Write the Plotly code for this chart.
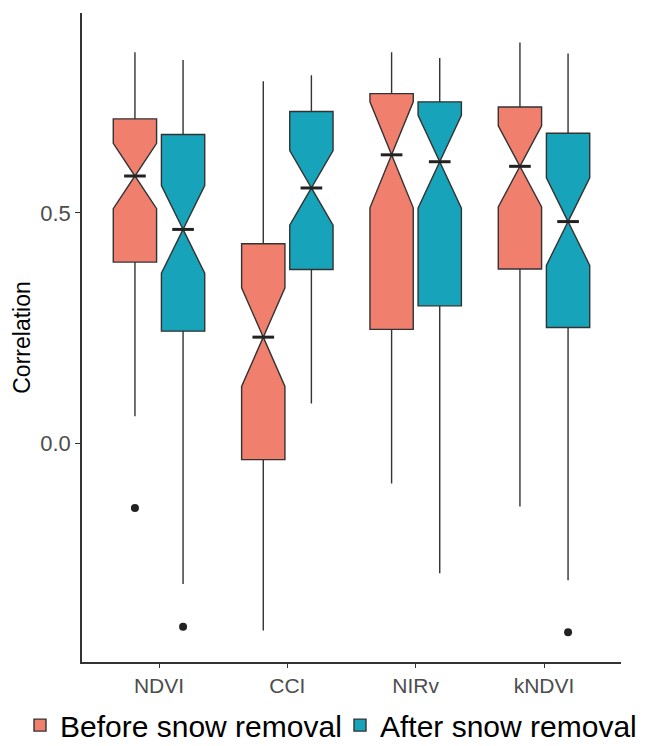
import plotly.graph_objects as go

categories = ["NDVI", "CCI", "NIRv", "kNDVI"]
groups = ["Before snow removal", "After snow removal"]

# Box statistics
before_upper = [0.849, 0.786, 0.849, 0.870]
before_q3 = [0.704, 0.433, 0.759, 0.730]
before_median = [0.580, 0.230, 0.626, 0.601]
before_q1 = [0.393, -0.036, 0.247, 0.378]
before_lower = [0.058, -0.407, -0.088, -0.138]
before_notch = [0.071, 0.107, 0.115, 0.088]
before_outlier_cat = ["NDVI"]
before_outlier_val = [-0.141]

after_upper = [0.832, 0.799, 0.836, 0.846]
after_q3 = [0.670, 0.720, 0.741, 0.673]
after_median = [0.464, 0.554, 0.611, 0.481]
after_q1 = [0.243, 0.377, 0.298, 0.251]
after_lower = [-0.306, 0.086, -0.283, -0.298]
after_notch = [0.095, 0.081, 0.101, 0.095]
after_outlier_cat = ["NDVI", "kNDVI"]
after_outlier_val = [-0.399, -0.411]

before_color = "#F17F6E"
after_color = "#17A3B9"
edge = "#333333"

dodge = 0.1875
box_w = 0.3375
notch_w = 0.5

cat_pos = {c: i + 1 for i, c in enumerate(categories)}

fig = go.Figure()

series = [
    (groups[0], "legend", -dodge, before_color, before_q1, before_median, before_q3,
     before_lower, before_upper, before_notch, before_outlier_cat, before_outlier_val),
    (groups[1], "legend2", dodge, after_color, after_q1, after_median, after_q3,
     after_lower, after_upper, after_notch, after_outlier_cat, after_outlier_val),
]

for name, leg, off, col, q1, med, q3, lo, hi, nsp, ocat, oval in series:
    xs = [cat_pos[c] + off for c in categories]
    fig.add_trace(go.Box(
        name=name, legend=leg, x=xs, q1=q1, median=med, q3=q3,
        lowerfence=lo, upperfence=hi, notchspan=nsp,
        notched=True, notchwidth=notch_w, width=box_w,
        whiskerwidth=0, fillcolor=col,
        line=dict(color=edge, width=1.4),
        boxpoints=False, hoverinfo="skip",
    ))
    # thicker median segments
    mx, my = [], []
    half = box_w / 2 * (1 - notch_w)
    for x, m in zip(xs, med):
        mx += [x - half, x + half, None]
        my += [m, m, None]
    fig.add_trace(go.Scatter(x=mx, y=my, mode="lines",
                             line=dict(color="#222222", width=3),
                             showlegend=False, hoverinfo="skip"))
    fig.add_trace(go.Scatter(
        x=[cat_pos[c] + off for c in ocat], y=oval, mode="markers",
        marker=dict(color="#222222", size=8), showlegend=False, hoverinfo="skip"))

legend_common = dict(orientation="h", xref="container", yref="container",
                     y=0.028, yanchor="middle", xanchor="left",
                     font=dict(size=30, color="#000000"),
                     bgcolor="rgba(0,0,0,0)", itemwidth=30)

fig.update_layout(
    width=653, height=746,
    margin=dict(l=82, r=32, t=13, b=84, autoexpand=False),
    paper_bgcolor="white", plot_bgcolor="white",
    font=dict(family="Liberation Sans, Arial, sans-serif", color="#000000"),
    boxmode="overlay",
    legend=dict(x=20 / 653, **legend_common),
    legend2=dict(x=340 / 653, **legend_common),
    xaxis=dict(
        range=[0.4, 4.6], tickmode="array",
        tickvals=[cat_pos[c] for c in categories], ticktext=categories,
        showline=True, linecolor=edge, linewidth=1.5,
        ticks="outside", ticklen=4, tickcolor=edge, tickwidth=1,
        tickfont=dict(size=21, color="#4D4D4D"),
        showgrid=False, zeroline=False, automargin=False,
    ),
    yaxis=dict(
        range=[-0.4755, 0.934], tickmode="array",
        tickvals=[0.0, 0.5], ticktext=["0.0", "0.5"],
        showline=True, linecolor=edge, linewidth=1.5,
        ticks="outside", ticklen=5, tickcolor=edge, tickwidth=1,
        tickfont=dict(size=22, color="#4D4D4D"),
        showgrid=False, zeroline=False, automargin=False,
        title=dict(text="Correlation", font=dict(size=23, color="#000000"), standoff=3),
    ),
)

fig.write_html(
    "out.html",
    config={"displayModeBar": False},
    post_script="document.body.style.margin='0';document.body.style.padding='0';",
)
